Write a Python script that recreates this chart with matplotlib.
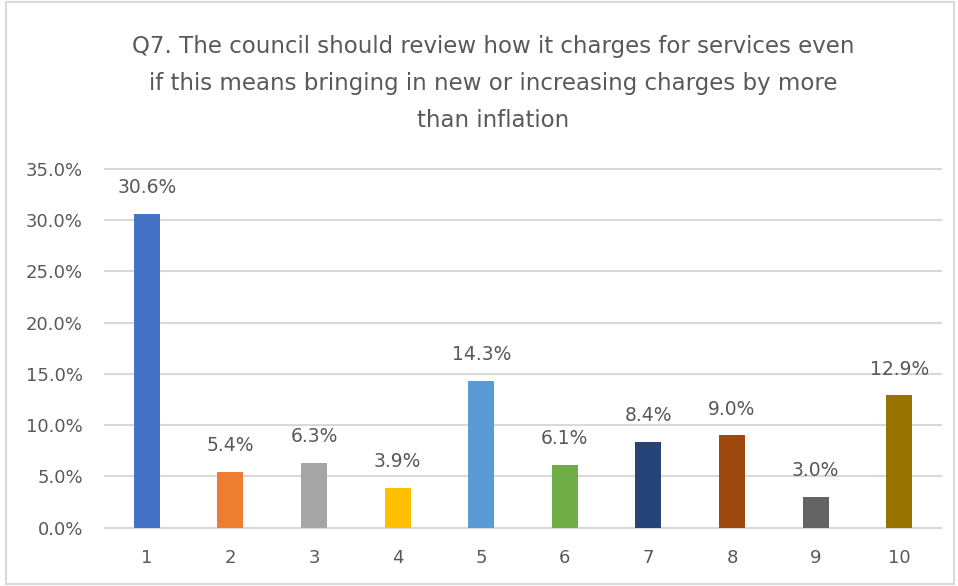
import matplotlib.pyplot as plt
import matplotlib.patches as mpatches
from matplotlib.ticker import PercentFormatter, MultipleLocator

categories = ['1', '2', '3', '4', '5', '6', '7', '8', '9', '10']
values = [30.6, 5.4, 6.3, 3.9, 14.3, 6.1, 8.4, 9.0, 3.0, 12.9]
colors = ['#4472C4', '#ED7D31', '#A5A5A5', '#FFC000', '#5B9BD5',
          '#70AD47', '#264478', '#9E480E', '#636363', '#997300']
title = ("Q7. The council should review how it charges for services even\n"
         "if this means bringing in new or increasing charges by more\n"
         "than inflation")

text_color = '#595959'
grid_color = '#D9D9D9'

fig = plt.figure(figsize=(9.58, 5.86), dpi=100)
ax = fig.add_axes([0.1096, 0.0995, 0.8727, 0.6121])

x = list(range(len(categories)))
ax.bar(x, values, color=colors, width=0.31, zorder=3)

for i, v in enumerate(values):
    ax.annotate(f"{v:.1f}%", xy=(i, v), xytext=(0, 19),
                textcoords='offset points', ha='center', va='center',
                fontsize=13.5, color=text_color)

ax.set_xlim(-0.5, len(categories) - 0.5)
ax.set_ylim(0, 35)
ax.yaxis.set_major_locator(MultipleLocator(5))
ax.yaxis.set_major_formatter(PercentFormatter(decimals=1))
ax.set_xticks(x)
ax.set_xticklabels(categories)
ax.tick_params(axis='both', length=0, labelsize=13, labelcolor=text_color)
ax.tick_params(axis='x', pad=15)
ax.tick_params(axis='y', pad=16)

ax.grid(axis='y', color=grid_color, linewidth=1.5, zorder=0)
for line in ax.get_ygridlines():
    line.set_clip_on(False)
for s in ax.spines.values():
    s.set_visible(False)

fig.text(0.515, 0.857, title, ha='center', va='center', fontsize=16.5,
         color=text_color, linespacing=1.78)

border = mpatches.Rectangle((0.006, 0.004), 0.99, 0.992, transform=fig.transFigure,
                            fill=False, edgecolor=grid_color, linewidth=1.5)
fig.patches.append(border)

fig.savefig('out.png', dpi=100)
